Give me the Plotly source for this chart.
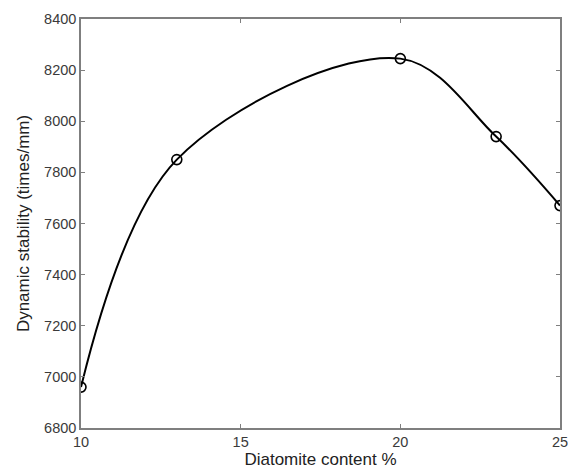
import plotly.graph_objects as go

content = [10, 13, 20, 23, 25]
stability = [6960, 7850, 8245, 7940, 7670]
x_ticks = [10, 15, 20, 25]
y_ticks = [6800, 7000, 7200, 7400, 7600, 7800, 8000, 8200, 8400]

fig = go.Figure()
fig.add_trace(go.Scatter(
    x=content, y=stability, mode="lines+markers",
    line=dict(color="black", width=2, shape="spline", smoothing=1.0),
    marker=dict(symbol="circle-open", size=10, color="black", line=dict(width=1.6)),
    showlegend=False,
))

font_family = "Liberation Sans, Arial"
axis_common = dict(
    showgrid=False, zeroline=False, showline=True, linecolor="#7f7f7f", linewidth=1.5,
    mirror="ticks", ticks="inside", ticklen=4, tickcolor="#7f7f7f", automargin=False,
    ticklabeloverflow="allow",
    tickfont=dict(family=font_family, size=14.5, color="#3a3a3a"),
)
fig.update_xaxes(range=[10, 25], tickvals=x_ticks,
                 title=dict(text="Diatomite content %", font=dict(family=font_family, size=17, color="#222222"), standoff=3),
                 **axis_common)
fig.update_yaxes(range=[6800, 8400], tickvals=y_ticks,
                 title=dict(text="Dynamic stability (times/mm)", font=dict(family=font_family, size=17, color="#222222"), standoff=10),
                 **axis_common)
fig.update_layout(
    autosize=False, width=568, height=474,
    margin=dict(l=81, r=8, t=19, b=46, pad=0),
    plot_bgcolor="white", paper_bgcolor="white",
)
fig.write_html("out.html",
               config=dict(displayModeBar=False, responsive=False),
               post_script="document.body.style.margin='0';document.body.style.overflow='hidden';")
